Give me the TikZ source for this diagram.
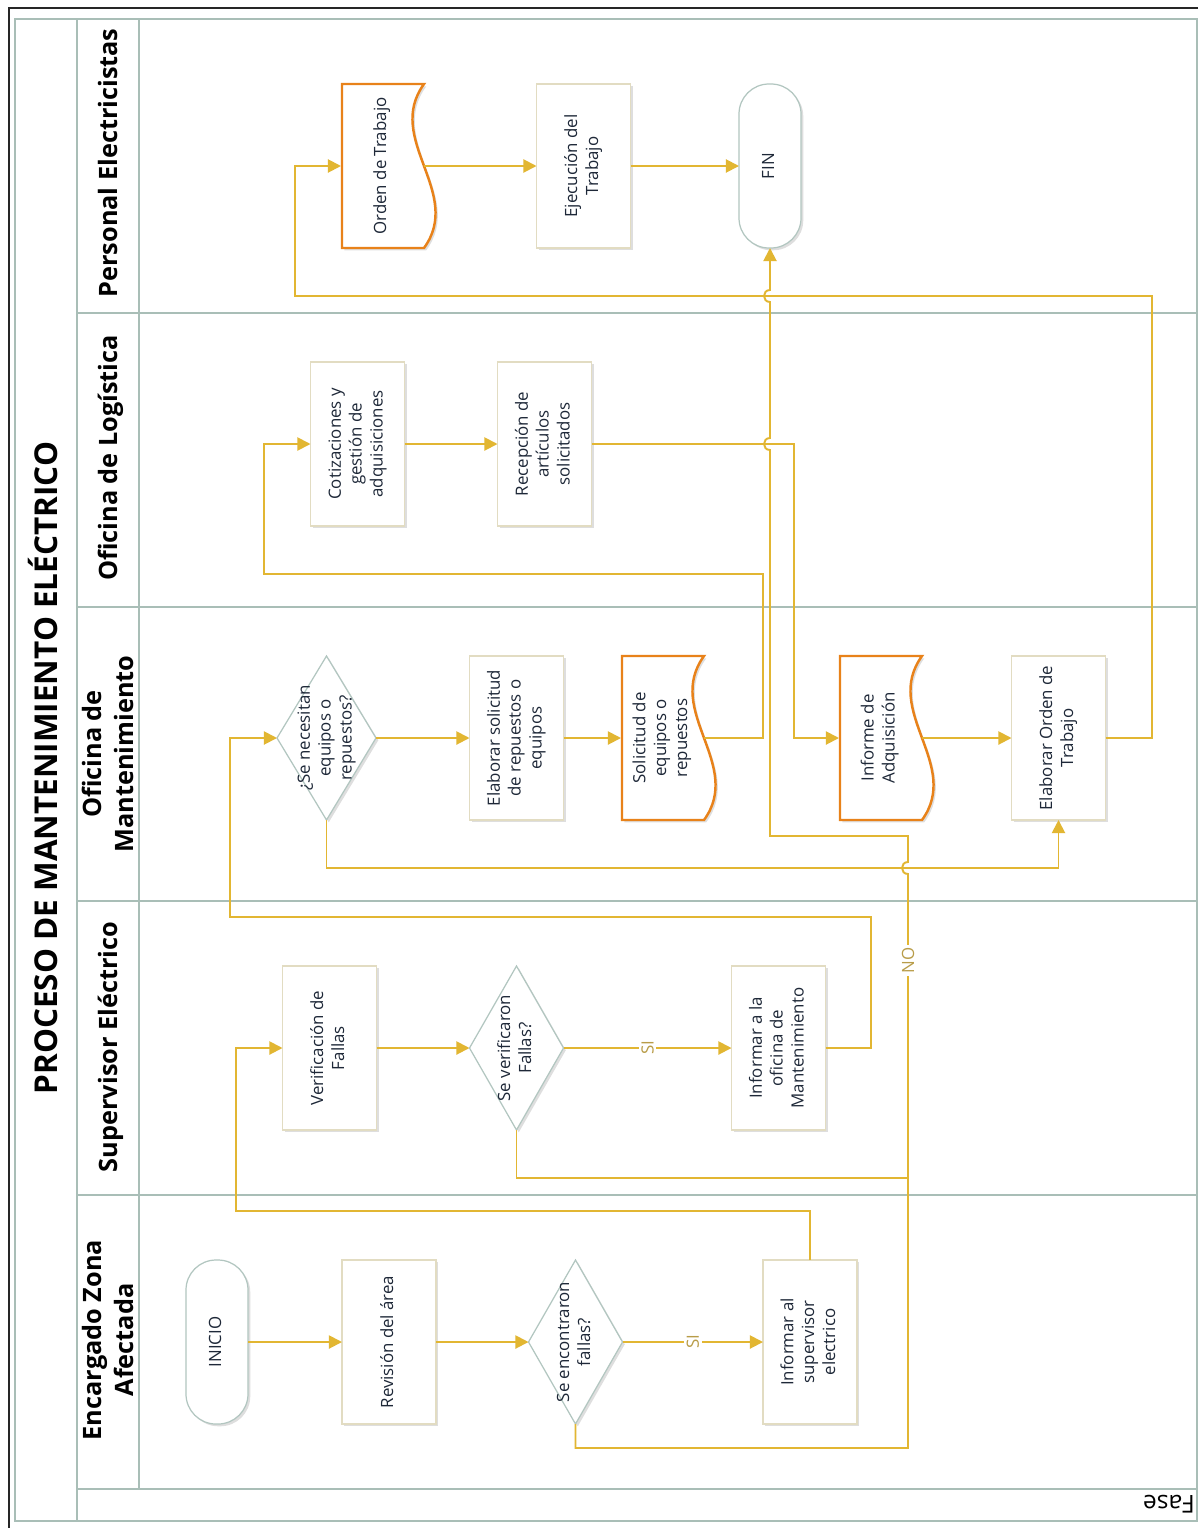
\documentclass[tikz,border=0pt]{standalone}
\usepackage{graphicx}
\usepackage{fontspec}
\setmainfont{Open Sans}
\usetikzlibrary{arrows.meta,shapes.geometric,shadows}
\definecolor{conncol}{HTML}{E2B632}
\definecolor{doccol}{HTML}{E8821A}
\definecolor{rectcol}{HTML}{E2DCC2}
\definecolor{grcol}{HTML}{B2C6C0}
\definecolor{lanecol}{HTML}{A9BEB7}
\definecolor{txtcol}{HTML}{1E2838}
\definecolor{lblcol}{HTML}{B89C48}
\newlength\pxu \setlength\pxu{0.02cm}
\newcommand\rt[1]{\makebox[0pt]{\raisebox{-.5\height}[0pt][0pt]{\rotatebox{90}{\begin{tabular}{@{}c@{}}#1\end{tabular}}}}}
\tikzset{
 basebox/.style={inner sep=0pt, outer sep=0pt, font=\fontsize{9.6}{11.9}\selectfont, text=txtcol},
 shad/.style={drop shadow={shadow xshift=1.3pt, shadow yshift=-1.3pt, fill=black, opacity=0.13}},
 rectbox/.style={basebox, rectangle, draw=rectcol, line width=0.7pt, fill=white, minimum width=94\pxu, minimum height=164\pxu, shad},
 decbox/.style={basebox, diamond, draw=grcol, line width=0.7pt, fill=white, minimum width=94\pxu, minimum height=164\pxu, shad},
 termbox/.style={basebox, rectangle, rounded corners=30\pxu, draw=grcol, line width=0.7pt, fill=white, minimum width=62\pxu, minimum height=164\pxu, shad},
 docnode/.style={basebox, rectangle, minimum width=82\pxu, minimum height=164\pxu},
 docline/.style={draw=doccol, line width=1.4pt, fill=white, shad},
 connp/.style={draw=conncol, line width=1.1pt},
 conn/.style={connp, -{Triangle[length=7.5pt,width=7.5pt]}},
 lbl/.style={fill=white, text=lblcol, inner sep=1.5pt, font=\fontsize{9.6}{11}\selectfont},
 lane/.style={draw=lanecol, line width=1.1pt},
 lanetitle/.style={rotate=90, font=\bfseries\fontsize{14.4}{18}\selectfont, text=black, align=center},
}
\newcommand\docat[4]{%
 \draw[docline] (#2,#3) -- ++(82,0) .. controls +(-40,55) and +(40,-55) .. ++(0,164) -- ++(-82,0) -- cycle;
 \node[docnode] (#1) at (#2+40,#3+82) {\rt{#4}};}
\begin{document}
\begin{tikzpicture}[x=0.02cm, y=-0.02cm]
\useasboundingbox (0,0) rectangle (1198,1528);
\fill[white] (0,0) rectangle (1198,1528);
% frames
\draw[black!85, line width=1.3pt] (1198,8) -- (9,8) -- (9,1528);
\draw[lanecol, line width=0.8pt] (15,19) rectangle (1197,1521);
\draw[lane] (77,19) -- (77,1521);
\draw[lane] (139,19) -- (139,1489);
\foreach \yy in {313,607,901,1195,1489} \draw[lane] (77,\yy) -- (1197,\yy);
% titles
\node[rotate=90, anchor=base, font=\bfseries\fontsize{17.9}{20}\selectfont, text=black] (title) at (57,768) {PROCESO DE MANTENIMIENTO ELÉCTRICO};
\node[lanetitle, anchor=base] (l1) at (117,163) {Personal Electricistas};
\node[lanetitle, anchor=base] (l2) at (117,458) {Oficina de Logística};
\node[lanetitle] (l3) at (108,754) {Oficina de\\Mantenimiento};
\node[lanetitle, anchor=base] (l4) at (117,1047) {Supervisor Eléctrico};
\node[lanetitle] (l5) at (108,1340) {Encargado Zona\\Afectada};
\node[rotate=180, anchor=base, font=\fontsize{14}{16}\selectfont, text=black] (fase) at (1169,1495) {Fase};
% Encargado lane
\node[termbox] (inicio) at (217,1342) {\rt{INICIO}};
\node[rectbox] (rev) at (389,1342) {\rt{Revisión del área}};
\node[decbox] (enc) at (575.5,1342) {\rt{Se encontraron\\fallas?}};
\node[rectbox] (infsup) at (810,1342) {\rt{Informar al\\supervisor\\electrico}};
% Supervisor lane
\node[rectbox] (verif) at (329.5,1048) {\rt{Verificación de\\Fallas}};
\node[decbox] (verd) at (516.5,1048) {\rt{Se verificaron\\Fallas?}};
\node[rectbox] (infof) at (778.5,1048) {\rt{Informar a la\\oficina de\\Mantenimiento}};
% Mantenimiento lane
\node[decbox, minimum width=99\pxu] (nec) at (326.5,738) {\rt{¿Se necesitan\\equipos o\\repuestos?}};
\node[rectbox] (elab) at (516.5,738) {\rt{Elaborar solicitud\\de repuestos o\\equipos}};
\docat{sol}{622}{656}{Solicitud de\\equipos o\\repuestos}
\docat{inf}{840}{656}{Informe de\\Adquisición}
\node[rectbox] (eot) at (1058.5,738) {\rt{Elaborar Orden de\\Trabajo}};
% Logistica lane
\node[rectbox] (cot) at (357.5,444) {\rt{Cotizaciones y\\gestión de\\adquisiciones}};
\node[rectbox] (rec) at (544.5,444) {\rt{Recepción de\\artículos\\solicitados}};
% Personal lane
\docat{ot}{342}{84}{Orden de Trabajo}
\node[rectbox] (ejec) at (583.5,166) {\rt{Ejecución del\\Trabajo}};
\node[termbox] (fin) at (770,166) {\rt{FIN}};
% straight connectors
\draw[conn] (inicio) -- (rev);
\draw[conn] (rev) -- (enc);
\draw[conn] (enc) -- node[lbl] (si1) {\rotatebox{90}{SI}} (infsup);
\draw[conn] (verif) -- (verd);
\draw[conn] (verd) -- node[lbl] (si2) {\rotatebox{90}{SI}} (infof);
\draw[conn] (nec) -- (elab);
\draw[conn] (elab) -- (sol);
\draw[conn] ([xshift=1\pxu]inf.east) -- (eot);
\draw[conn] (cot) -- (rec);
\draw[conn] ([xshift=1\pxu]ot.east) -- (ejec);
\draw[conn] (ejec) -- (fin);
% routed connectors
\draw[conn] (infsup.north) |- (236,1211) |- (verif.west);
\draw[conn] (infof.east) -- (871,1048) -- (871,917) -| (230,738) -- (nec.west);
\draw[conn] (nec.south) -- ++(0,48) -| (eot.south);
\draw[conn] ([xshift=1\pxu]sol.east) -- (763,738) |- (264,574) |- (cot.west);
\draw[conn] (rec.east) -| (794,738) -- (inf.west);
\draw[conn] (eot.east) -- (1152,738) |- (295,296) |- (ot.west);
\draw[connp] (verd.south) |- (908,1178);
\draw[conn] (enc.south) |- (908,1448) -- node[lbl, pos=0.849] (no) {\rotatebox{90}{NO}} (908,874)
  .. controls (900,874) and (900,862) .. (908,862) |- (770,836) -- (770,450)
  .. controls (762,450) and (762,438) .. (770,438) -- (770,302)
  .. controls (762,302) and (762,290) .. (770,290) -- (fin.south);
\end{tikzpicture}
\end{document}
